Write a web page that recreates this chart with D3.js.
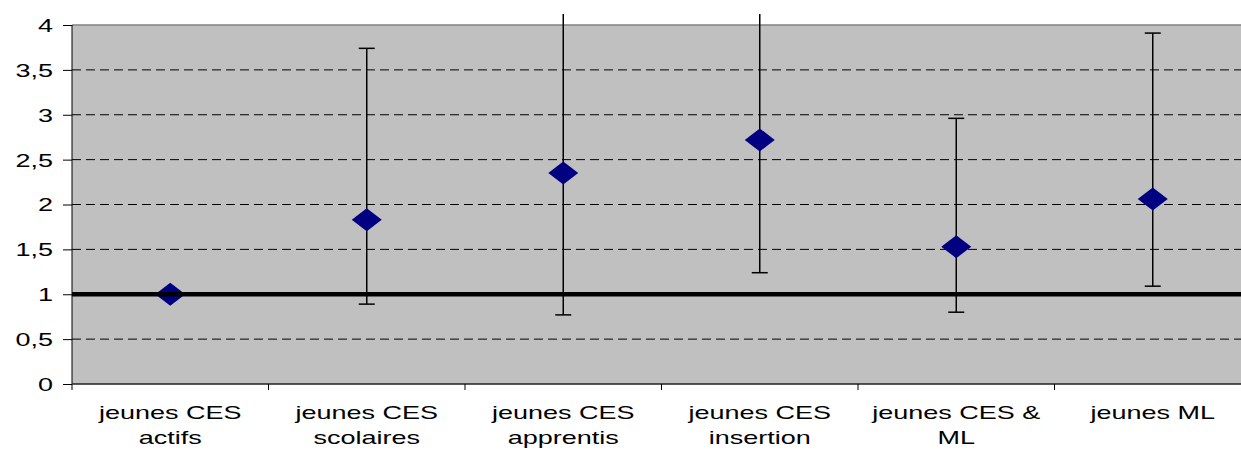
<!DOCTYPE html>
<html>
<head>
<meta charset="utf-8">
<script src="https://cdn.jsdelivr.net/npm/d3@7"></script>
<style>
    body { margin: 0; background: #fff; }
    svg { display: block; }
    text { font-family: "Liberation Sans", Arial, sans-serif; font-size: 18px; fill: #000; }
</style>
</head>
<body>
<div id="chart"></div>
<script>
// Odds ratios with confidence intervals by group of young people

const categories = [
    ['jeunes CES', 'actifs'],
    ['jeunes CES', 'scolaires'],
    ['jeunes CES', 'apprentis'],
    ['jeunes CES', 'insertion'],
    ['jeunes CES &', 'ML'],
    ['jeunes ML']
];
const estimates = [1, 1.83, 2.35, 2.72, 1.53, 2.06];
const lowerBounds = [1, 0.89, 0.77, 1.24, 0.80, 1.09];
const upperBounds = [1, 3.74, 4.5, 4.5, 2.96, 3.91];
const yTicks = [0, 0.5, 1, 1.5, 2, 2.5, 3, 3.5, 4];
const referenceValue = 1;

const width = 1241, height = 450;
const margin = { top: 25, right: -10, bottom: 66, left: 72 };
const innerW = width - margin.left - margin.right;
const innerH = height - margin.top - margin.bottom;
const stretch = 1.5; // labels in the source are stretched horizontally

const svg = d3.select('#chart').append('svg')
    .attr('width', width)
    .attr('height', height);

// clip error bars to the chart area (they run off the top)
svg.append('clipPath').attr('id', 'clip')
    .append('rect')
    .attr('x', 0).attr('y', 14)
    .attr('width', width).attr('height', height - 14);

const g = svg.append('g')
    .attr('transform', `translate(${margin.left},${margin.top})`);

const idx = categories.map((d, i) => i);
const xScale = d3.scaleBand()
    .domain(idx)
    .range([0, innerW]);

const yScale = d3.scaleLinear()
    .domain([0, 4])
    .range([innerH, 0]);

// plot background
g.append('rect')
    .attr('width', innerW)
    .attr('height', innerH)
    .attr('fill', '#c0c0c0');

// gridlines
g.selectAll('.grid')
    .data(yTicks.filter(t => t > 0 && t < 4))
    .enter().append('line')
    .attr('class', 'grid')
    .attr('x1', 0).attr('x2', innerW)
    .attr('y1', d => yScale(d)).attr('y2', d => yScale(d))
    .attr('stroke', '#000')
    .attr('stroke-width', 1)
    .attr('stroke-dasharray', '9,5');

g.append('line')
    .attr('x1', 0).attr('x2', innerW)
    .attr('y1', yScale(4)).attr('y2', yScale(4))
    .attr('stroke', '#808080')
    .attr('stroke-width', 1.5);

// y axis
const yAxis = d3.axisLeft(yScale)
    .tickValues(yTicks)
    .tickSize(9)
    .tickPadding(0)
    .tickFormat(d => String(d).replace('.', ','));

const yAxisGroup = g.append('g').call(yAxis);
yAxisGroup.select('.domain').remove();
yAxisGroup.selectAll('line').attr('stroke', '#000');
yAxisGroup.selectAll('text')
    .attr('x', 0)
    .attr('dy', '0.36em')
    .attr('text-anchor', 'end')
    .style('font-size', '18px')
    .attr('transform', `translate(-19,0) scale(${stretch},1)`);

g.append('line')
    .attr('x1', 0).attr('x2', 0)
    .attr('y1', 0).attr('y2', innerH + 6)
    .attr('stroke', '#000');

// x axis
g.append('line')
    .attr('x1', 0).attr('x2', innerW)
    .attr('y1', innerH).attr('y2', innerH)
    .attr('stroke', '#222')
    .attr('stroke-width', 1.5);

g.selectAll('.xtick')
    .data(idx.slice(1))
    .enter().append('line')
    .attr('class', 'xtick')
    .attr('x1', d => xScale(d)).attr('x2', d => xScale(d))
    .attr('y1', innerH).attr('y2', innerH + 6)
    .attr('stroke', '#000');

const labels = g.selectAll('.xlabel')
    .data(categories)
    .enter().append('g')
    .attr('class', 'xlabel')
    .attr('transform', (d, i) =>
        `translate(${xScale(i) + xScale.bandwidth() / 2},${innerH + 35}) scale(${stretch},1)`);

labels.each(function(lines) {
    const t = d3.select(this).append('text').attr('text-anchor', 'middle');
    lines.forEach((line, j) => {
        t.append('tspan').attr('x', 0).attr('y', j * 25).text(line);
    });
});

// error bars
const cx = i => xScale(i) + xScale.bandwidth() / 2;
const bars = svg.append('g')
    .attr('clip-path', 'url(#clip)')
    .append('g')
    .attr('transform', `translate(${margin.left},${margin.top})`);

idx.forEach(i => {
    if (upperBounds[i] === lowerBounds[i]) return;
    bars.append('line')
        .attr('x1', cx(i)).attr('x2', cx(i))
        .attr('y1', yScale(lowerBounds[i])).attr('y2', yScale(upperBounds[i]))
        .attr('stroke', '#000').attr('stroke-width', 1.5);
    [lowerBounds[i], upperBounds[i]].forEach(v => {
        bars.append('line')
            .attr('x1', cx(i) - 8).attr('x2', cx(i) + 8)
            .attr('y1', yScale(v)).attr('y2', yScale(v))
            .attr('stroke', '#000').attr('stroke-width', 1.5);
    });
});

// diamonds and reference line
const front = svg.append('g')
    .attr('transform', `translate(${margin.left},${margin.top})`);

front.selectAll('.point')
    .data(estimates)
    .enter().append('path')
    .attr('class', 'point')
    .attr('d', (d, i) => {
        const x = cx(i), y = yScale(d);
        return `M${x - 15},${y}L${x},${y - 11.5}L${x + 15},${y}L${x},${y + 11.5}Z`;
    })
    .attr('fill', '#000080');

front.append('line')
    .attr('x1', 0).attr('x2', innerW)
    .attr('y1', yScale(referenceValue)).attr('y2', yScale(referenceValue))
    .attr('stroke', '#000')
    .attr('stroke-width', 4.5);
</script>
</body>
</html>
